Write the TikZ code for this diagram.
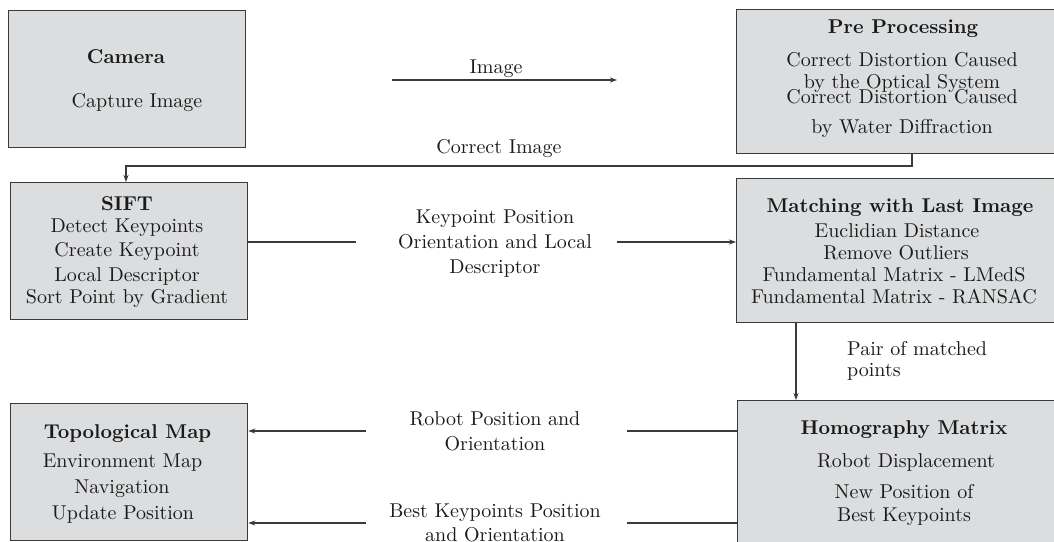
\documentclass[tikz,border=0pt]{standalone}
\usepackage{fontspec}
\setmainfont{lmroman10-regular}[Extension=.otf, BoldFont=lmroman10-bold]
\usetikzlibrary{arrows.meta}
\definecolor{boxfill}{HTML}{DCDDDF}
\definecolor{boxline}{HTML}{3A3A3A}
\definecolor{ink}{HTML}{1A1A1A}
\newcommand{\fs}{\fontsize{20}{23}\selectfont}
\tikzset{
  box/.style={draw=boxline, fill=boxfill, line width=1.3pt, anchor=north west, inner sep=0pt},
  txt/.style={anchor=base, inner sep=0pt, font=\fs, text=ink},
  ttl/.style={anchor=base, inner sep=0pt, font=\fs\bfseries, text=ink},
  ln/.style={draw=boxline, line width=1.1pt},
  arr/.style={ln, -{Stealth[length=7pt,width=5pt]}}
}
\begin{document}
\begin{tikzpicture}[x=1pt,y=-1pt]
\useasboundingbox (0,0) rectangle (1054,541);
\clip (0,0) rectangle (1054,541);
% boxes
\node[box, minimum width=237pt, minimum height=137pt] (cam) at (8,10) {};
\node[box, minimum width=330pt, minimum height=144pt] (pre) at (736,9) {};
\node[box, minimum width=237pt, minimum height=137pt] (sift) at (10,182) {};
\node[box, minimum width=330pt, minimum height=144pt] (match) at (736,178) {};
\node[box, minimum width=330pt, minimum height=170pt] (homo) at (737,400) {};
\node[box, minimum width=237pt, minimum height=137pt] (topo) at (10,403) {};
% camera text
\node[ttl] (cam1) at (126,63) {Camera};
\node[txt] (cam2) at (137,107) {Capture Image};
% pre processing text
\node[ttl] (pre1) at (903,33) {Pre Processing};
\node[txt] (pre2) at (902,66) {Correct Distortion Caused};
\node[txt] (pre3) at (902,88) {by the Optical System};
\node[txt] (pre4) at (902,103) {Correct Distortion Caused};
\node[txt] (pre5) at (902,133) {by Water Diffraction};
% sift text
\node[ttl] (sift1) at (127,210) {SIFT};
\node[txt] (sift2) at (127,232) {Detect Keypoints};
\node[txt] (sift3) at (127,256) {Create Keypoint};
\node[txt] (sift4) at (127,281) {Local Descriptor};
\node[txt] (sift5) at (127,303) {Sort Point by Gradient};
% matching text
\node[ttl] (m1) at (900,212) {Matching with Last Image};
\node[txt] (m2) at (897,237) {Euclidian Distance};
\node[txt] (m3) at (896,259) {Remove Outliers};
\node[txt] (m4) at (894,281) {Fundamental Matrix - LMedS};
\node[txt] (m5) at (894,303) {Fundamental Matrix - RANSAC};
% homography text
\node[ttl] (h1) at (904,434) {Homography Matrix};
\node[txt] (h2) at (906,467) {Robot Displacement};
\node[txt] (h3) at (904,498) {New Position of};
\node[txt] (h4) at (904,521) {Best Keypoints};
% topological text
\node[ttl] (t1) at (127.5,438) {Topological Map};
\node[txt] (t2) at (122.5,467) {Environment Map};
\node[txt] (t3) at (122,493) {Navigation};
\node[txt] (t4) at (123,519) {Update Position};
% connector labels
\node[txt] (lImage) at (496,73) {Image};
\node[txt] (lCorr) at (499,153) {Correct Image};
\node[txt] (lk1) at (495,223) {Keypoint Position};
\node[txt] (lk2) at (495,248) {Orientation and Local};
\node[txt] (lk3) at (495,273) {Descriptor};
\node[txt, anchor=base west] (lp1) at (847,355) {Pair of matched};
\node[txt, anchor=base west] (lp2) at (847,376) {points};
\node[txt] (lr1) at (495,425) {Robot Position and};
\node[txt] (lr2) at (495,450) {Orientation};
\node[txt] (lb1) at (495,517) {Best Keypoints Position};
\node[txt] (lb2) at (495,541) {and Orientation};
% coordinates
\coordinate (imgA) at (392,80);
\coordinate (imgB) at (617,80);
\coordinate (c1) at (912,166);
\coordinate (c2) at (126,166);
\coordinate (kA) at (356,242);
\coordinate (kB) at (617,242);
\coordinate (v) at (796,0);
\coordinate (rA) at (627,431);
\coordinate (rB) at (366,431);
\coordinate (bA) at (627,523);
\coordinate (bB) at (366,523);
% connectors
\draw[arr] (imgA) -- (imgB);
\draw[arr] (c1 |- pre.south) -- (c1) -- (c2) -- (c2 |- sift.north);
\draw[ln] (sift.east |- kA) -- (kA);
\draw[arr] (kB) -- (match.west |- kB);
\draw[arr] (match.south -| v) -- (homo.north -| v);
\draw[ln] (homo.west |- rA) -- (rA);
\draw[arr] (rB) -- (topo.east |- rB);
\draw[ln] (homo.west |- bA) -- (bA);
\draw[arr] (bB) -- (topo.east |- bB);
\end{tikzpicture}
\end{document}
